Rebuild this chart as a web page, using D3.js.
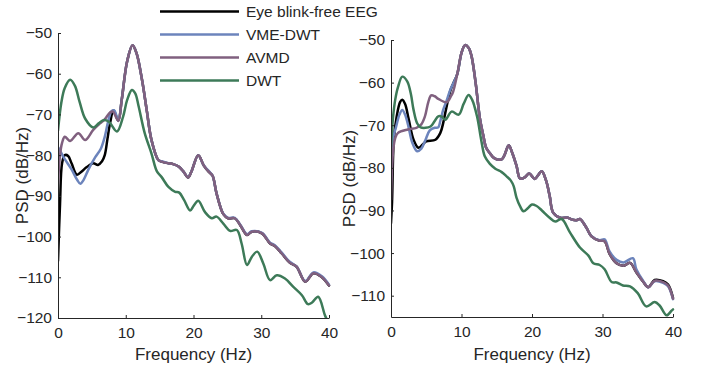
<!DOCTYPE html>
<html>
<head>
<meta charset="utf-8">
<script src="https://cdn.jsdelivr.net/npm/d3@7"></script>
<style>
    body { margin: 0; background: #fff; }
    text { font-family: "Liberation Sans", Arial, Helvetica, sans-serif; fill: #262626; }
</style>
</head>
<body>
<div id="chart"></div>
<script>
// ---- data ----
const seriesNames = ["Eye blink-free EEG", "VME-DWT", "AVMD", "DWT"];
const seriesColors = ["#000000", "#6c84bc", "#80607f", "#3d7a58"];
const xTicks = [0, 10, 20, 30, 40];
const yTicksLeft = [-50, -60, -70, -80, -90, -100, -110, -120];
const yTicksRight = [-50, -60, -70, -80, -90, -100, -110];

// left panel
const eegFreqL = [0, 0.3, 0.6, 1.0, 1.5, 2.0, 2.8, 3.5, 4.2, 5.2, 5.9, 6.5, 6.9, 7.3, 7.7, 8.2, 8.9, 9.4, 10.2, 11.0, 11.6, 12.4, 13.1, 13.8, 14.8, 15.3, 16.3, 17.0, 17.8, 18.5, 19.2, 19.7, 20.7, 21.5, 22.2, 22.8, 23.4, 24.4, 25.1, 26.1, 26.9, 27.9, 28.6, 30.1, 31.3, 32.0, 33.0, 34.2, 35.2, 36.5, 37.7, 38.9, 40];
const eegPsdL = [-106, -92, -82, -80, -80.2, -82, -84.8, -84, -83, -82, -82.4, -81.5, -80, -76, -72, -69, -71.5, -66.5, -57, -53, -55, -61.5, -69, -76.3, -81.2, -81.6, -82, -82.2, -82.8, -84, -85.5, -84, -80, -82.5, -84, -85, -89.4, -94.5, -95.5, -95.5, -97.2, -99.6, -98.8, -99.2, -101.7, -102.3, -104.1, -106.4, -107.4, -111.1, -109, -109.9, -112];

const vmeFreqL = [0, 0.5, 1.0, 2.0, 2.8, 3.3, 3.8, 4.5, 5.5, 6.3, 6.9, 7.5, 7.9, 8.3, 8.9, 9.4, 10.2, 11.0, 11.6, 12.4, 13.1, 13.8, 14.8, 15.3, 16.3, 17.0, 17.8, 18.5, 19.2, 19.7, 20.7, 21.5, 22.2, 22.8, 23.4, 24.4, 25.1, 26.1, 26.9, 27.9, 28.6, 30.1, 31.3, 32.0, 33.0, 34.2, 35.2, 36.5, 37.7, 38.9, 40];
const vmePsdL = [-78, -79.5, -81, -83.5, -86, -87, -86, -83.5, -80.5, -78.5, -75.5, -71, -69.2, -69, -71.5, -66.5, -57, -53, -55, -61.5, -69, -76.3, -81.2, -81.5, -82, -82.2, -82.8, -84, -85.4, -84, -80, -82.5, -83.8, -85, -89.4, -94.4, -95.4, -95.4, -97.1, -99.4, -98.7, -99.1, -101.5, -102.1, -103.9, -106.2, -107.3, -110.9, -108.8, -109.7, -111.8];

const avmdFreqL = [0, 0.3, 0.6, 1.0, 1.8, 3.0, 4.0, 5.2, 6.2, 6.9, 7.7, 8.1, 8.9, 9.4, 10.2, 11.0, 11.6, 12.4, 13.1, 13.8, 14.8, 15.3, 16.3, 17.0, 17.8, 18.5, 19.2, 19.7, 20.7, 21.5, 22.2, 22.8, 23.4, 24.4, 25.1, 26.1, 26.9, 27.9, 28.6, 30.1, 31.3, 32.0, 33.0, 34.2, 35.2, 36.5, 37.7, 38.9, 40];
const avmdPsdL = [-87, -80, -77, -75.5, -76.5, -74.6, -76.3, -73.8, -72.2, -71.2, -69.5, -69.3, -71.6, -66.5, -57, -53, -55, -61.5, -69, -76.3, -81.2, -81.6, -82, -82.2, -82.8, -84, -85.5, -84, -80, -82.5, -84, -85, -89.4, -94.5, -95.5, -95.5, -97.2, -99.6, -98.8, -99.2, -101.7, -102.3, -104.1, -106.4, -107.4, -111.1, -109, -109.9, -112];

const dwtFreqL = [0, 0.5, 1.0, 1.8, 2.5, 3.2, 4.0, 5.2, 6.0, 6.7, 7.5, 8.7, 9.6, 10.2, 10.9, 11.4, 11.9, 12.8, 13.8, 14.6, 15.3, 16.3, 17.3, 17.9, 18.6, 19.5, 20.0, 20.7, 21.7, 22.7, 23.4, 24.4, 25.4, 26.4, 27.1, 27.9, 28.6, 29.4, 30.3, 31.3, 32.3, 33.5, 34.7, 36.0, 36.9, 37.5, 38.4, 39.4, 40];
const dwtPsdL = [-74, -67, -63.5, -61.5, -63, -67, -71, -73.2, -72.2, -71.4, -71.8, -74.2, -70.6, -66.5, -64, -64.8, -68, -74.6, -79.6, -84, -85.4, -87.8, -89, -89.2, -91, -93.6, -92.5, -91.2, -94, -95.5, -95.1, -96.8, -98.6, -98.4, -101.7, -107, -105, -103.7, -106.6, -110.7, -109.5, -110.3, -112.3, -114.4, -116.6, -116.2, -114.8, -119.3, -121.5];

// right panel
const eegFreqR = [0, 0.15, 0.4, 0.8, 1.3, 1.6, 2.0, 2.5, 3.2, 3.9, 4.5, 5.0, 6.3, 7.0, 7.4, 7.7, 8.4, 8.8, 9.4, 10.0, 10.5, 11.0, 11.4, 12.0, 12.6, 13.1, 13.5, 14.0, 14.7, 15.7, 16.1, 16.7, 17.2, 17.8, 18.3, 19.0, 19.6, 20.4, 21.0, 21.4, 22.0, 22.5, 23.0, 24.0, 25.1, 25.6, 26.3, 26.8, 27.7, 28.4, 29.6, 30.3, 31.0, 32.0, 33.0, 33.9, 34.8, 35.8, 36.5, 37.4, 38.6, 39.3, 40];
const eegPsdR = [-93, -88, -73.4, -68, -64.5, -64, -65, -68.5, -73.4, -75.3, -74.5, -73.8, -73.4, -71.8, -69.5, -67.1, -62, -60.3, -58, -53, -51.2, -51.8, -53.6, -60, -68.3, -72.5, -75.3, -76.5, -77.8, -78, -77, -74.7, -76.5, -79.5, -82.5, -82.2, -81.3, -82.6, -81.4, -80.8, -83, -86.5, -90.5, -91.7, -91.7, -92.1, -92.3, -92, -94, -96, -97.1, -97.2, -100.2, -102.4, -103, -102.3, -104.5, -106.8, -108, -106.3, -106.6, -107.4, -110.5];

const vmeFreqR = [0, 0.3, 0.7, 1.2, 1.6, 2.0, 2.5, 3.0, 3.7, 4.3, 4.9, 5.5, 6.2, 6.7, 7.0, 7.4, 7.9, 8.4, 8.8, 9.4, 10.0, 10.5, 11.0, 11.4, 12.0, 12.6, 13.1, 13.5, 14.0, 14.7, 15.7, 16.1, 16.7, 17.2, 17.8, 18.3, 19.0, 19.6, 20.4, 21.0, 21.4, 22.0, 22.5, 23.0, 24.0, 25.1, 25.6, 26.3, 26.8, 27.7, 28.4, 29.6, 30.3, 31.0, 32.0, 33.0, 34.3, 34.8, 35.8, 36.5, 37.4, 38.6, 39.3, 40];
const vmePsdR = [-80, -73, -70.5, -67.5, -66.4, -67.5, -70.5, -74, -76.1, -75.5, -73.4, -71.2, -70.6, -70.5, -69, -66.4, -64.2, -61.7, -60.3, -58, -53, -51.2, -51.8, -53.6, -60, -68.3, -72.5, -75.3, -76.5, -77.8, -78, -77, -74.7, -76.5, -79.5, -82.5, -82.2, -81.3, -82.6, -81.4, -80.8, -83, -86.5, -90.5, -91.7, -91.7, -92.1, -92.3, -92, -94, -96, -97, -96.8, -99.6, -101.6, -102.2, -101.2, -103.8, -106.6, -108, -106.6, -107, -107.8, -110.8];

const avmdFreqR = [0, 0.3, 0.6, 1.0, 2.4, 3.6, 4.3, 4.8, 5.3, 5.7, 6.2, 6.7, 7.9, 8.5, 8.8, 9.4, 10.0, 10.5, 11.0, 11.4, 12.0, 12.6, 13.1, 13.5, 14.0, 14.7, 15.7, 16.1, 16.7, 17.2, 17.8, 18.3, 19.0, 19.6, 20.4, 21.0, 21.4, 22.0, 22.5, 23.0, 24.0, 25.1, 25.6, 26.3, 26.8, 27.7, 28.4, 29.6, 30.3, 31.0, 32.0, 33.0, 33.9, 34.8, 35.8, 36.5, 37.4, 38.6, 39.3, 40];
const avmdPsdR = [-87.5, -76, -73, -71.8, -71, -70.6, -69.8, -68, -64.5, -63, -63.2, -63.8, -64.6, -63.2, -62.2, -58, -53, -51.2, -51.8, -53.6, -60, -68.3, -72.5, -75.3, -76.5, -77.8, -78, -77, -74.7, -76.5, -79.5, -82.5, -82.2, -81.3, -82.6, -81.4, -80.8, -83, -86.5, -90.5, -91.7, -91.7, -92.1, -92.3, -92, -94, -96, -97.1, -97.2, -100.2, -102.4, -103, -102.3, -104.5, -106.8, -108, -106.5, -106.8, -107.6, -110.7];

const dwtFreqR = [0, 0.3, 0.6, 1.0, 1.6, 2.3, 2.8, 3.2, 3.7, 4.2, 5.6, 6.2, 6.7, 7.2, 7.7, 8.6, 9.6, 10.3, 11.0, 11.5, 12.2, 12.8, 13.3, 14.0, 14.8, 15.7, 16.4, 17.0, 17.4, 17.8, 18.3, 18.8, 19.4, 20.0, 20.6, 21.4, 22.5, 23.3, 24.2, 25.4, 26.8, 28.0, 28.7, 29.6, 30.3, 31.3, 32.0, 32.9, 33.9, 35.0, 36.2, 37.4, 38.1, 39.1, 39.8, 40];
const dwtPsdR = [-75, -68, -64, -61, -58.6, -59.7, -62.5, -66.4, -69.5, -70.5, -70.3, -69, -67.9, -68, -68.7, -66.8, -67.5, -65, -62.9, -64, -67.9, -73.5, -77.3, -79, -80.2, -81, -82, -83, -84.3, -87, -89, -90.2, -89.5, -88.6, -88.9, -90, -91.7, -92.6, -92, -95.2, -98.7, -100.6, -102.4, -102.8, -103.8, -106.8, -106.9, -107.6, -107.8, -109.4, -112.5, -111.5, -112.3, -114.6, -113.5, -113.2];

class PsdPanel {
    constructor(svg, id, box, yDomain, yTicks, series) {
        this.svg = svg;
        this.id = id;
        this.box = box;
        this.yDomain = yDomain;
        this.yTicks = yTicks;
        this.series = series;
    }

    init() {
        const self = this;
        const b = this.box;

        this.x = d3.scaleLinear().domain([0, 40]).range([b.left, b.right]);
        this.y = d3.scaleLinear().domain(this.yDomain).range([b.bottom, b.top]);

        this.svg.append("clipPath")
            .attr("id", `${this.id}_clip`)
            .append("rect")
            .attr("x", b.left)
            .attr("y", b.top - 2)
            .attr("width", b.right - b.left + 2)
            .attr("height", b.bottom - b.top + 2);

        const line = d3.line()
            .x(d => self.x(d[0]))
            .y(d => self.y(d[1]))
            .curve(d3.curveCatmullRom.alpha(0.5));

        this.svg.append("g")
            .attr("clip-path", `url(#${this.id}_clip)`)
            .selectAll("path")
            .data(this.series)
            .enter()
            .append("path")
            .attr("d", s => line(d3.zip(s.freq, s.psd)))
            .attr("fill", "none")
            .attr("stroke", s => s.color)
            .attr("stroke-width", 2.5)
            .attr("stroke-linejoin", "round")
            .attr("stroke-linecap", "round");

        const xAxis = d3.axisBottom(this.x)
            .tickValues(xTicks)
            .tickSizeInner(-3)
            .tickSizeOuter(0)
            .tickPadding(9);
        const yAxis = d3.axisLeft(this.y)
            .tickValues(this.yTicks)
            .tickSizeInner(-3)
            .tickSizeOuter(0)
            .tickPadding(6);

        const gx = this.svg.append("g")
            .attr("class", "xaxis")
            .attr("transform", "translate(0," + b.bottom + ")")
            .call(xAxis);
        const gy = this.svg.append("g")
            .attr("class", "yaxis")
            .attr("transform", "translate(" + b.left + ",0)")
            .call(yAxis);

        [gx, gy].forEach(g => {
            g.select(".domain").attr("stroke", "#262626").attr("stroke-width", 1);
            g.selectAll(".tick line").attr("stroke", "#262626");
            g.selectAll("text")
                .style("font-size", "15.5px")
                .style("font-family", "'Liberation Sans', Arial, sans-serif")
                .attr("fill", "#262626");
        });
        gx.selectAll("text").attr("dy", "0.71em");

        this.svg.append("text")
            .attr("x", (b.left + b.right) / 2)
            .attr("y", 360)
            .attr("text-anchor", "middle")
            .style("font-size", "17px")
            .text("Frequency (Hz)");

        this.svg.append("text")
            .attr("transform", `translate(${b.labelX},${(b.top + b.bottom) / 2}) rotate(-90)`)
            .attr("text-anchor", "middle")
            .style("font-size", "17px")
            .text("PSD (dB/Hz)");
    }
}

const svg = d3.select("#chart").append("svg")
    .attr("width", 709)
    .attr("height", 373);

function makeSeries(freqs, psds) {
    return seriesNames.map((name, i) => ({
        name: name,
        color: seriesColors[i],
        freq: freqs[i],
        psd: psds[i]
    }));
}

const left = new PsdPanel(svg, "left",
    {left: 58, right: 329, top: 33, bottom: 318, labelX: 28},
    [-120, -50], yTicksLeft,
    makeSeries([eegFreqL, vmeFreqL, avmdFreqL, dwtFreqL], [eegPsdL, vmePsdL, avmdPsdL, dwtPsdL]));
left.init();

const right = new PsdPanel(svg, "right",
    {left: 391, right: 673, top: 40, bottom: 317, labelX: 355},
    [-115, -50], yTicksRight,
    makeSeries([eegFreqR, vmeFreqR, avmdFreqR, dwtFreqR], [eegPsdR, vmePsdR, avmdPsdR, dwtPsdR]));
right.init();

// legend
const legend = svg.append("g").attr("class", "legend");
const legendY = d3.scaleBand().domain(seriesNames).range([0, 92]);
seriesNames.forEach((name, i) => {
    const cy = legendY(name) + legendY.bandwidth() / 2;
    legend.append("line")
        .attr("x1", 160).attr("x2", 239)
        .attr("y1", cy).attr("y2", cy)
        .attr("stroke", seriesColors[i])
        .attr("stroke-width", 2.5);
    legend.append("text")
        .attr("x", 246)
        .attr("y", cy)
        .attr("dy", "0.35em")
        .style("font-size", "15.5px")
        .text(name);
});
</script>
</body>
</html>
